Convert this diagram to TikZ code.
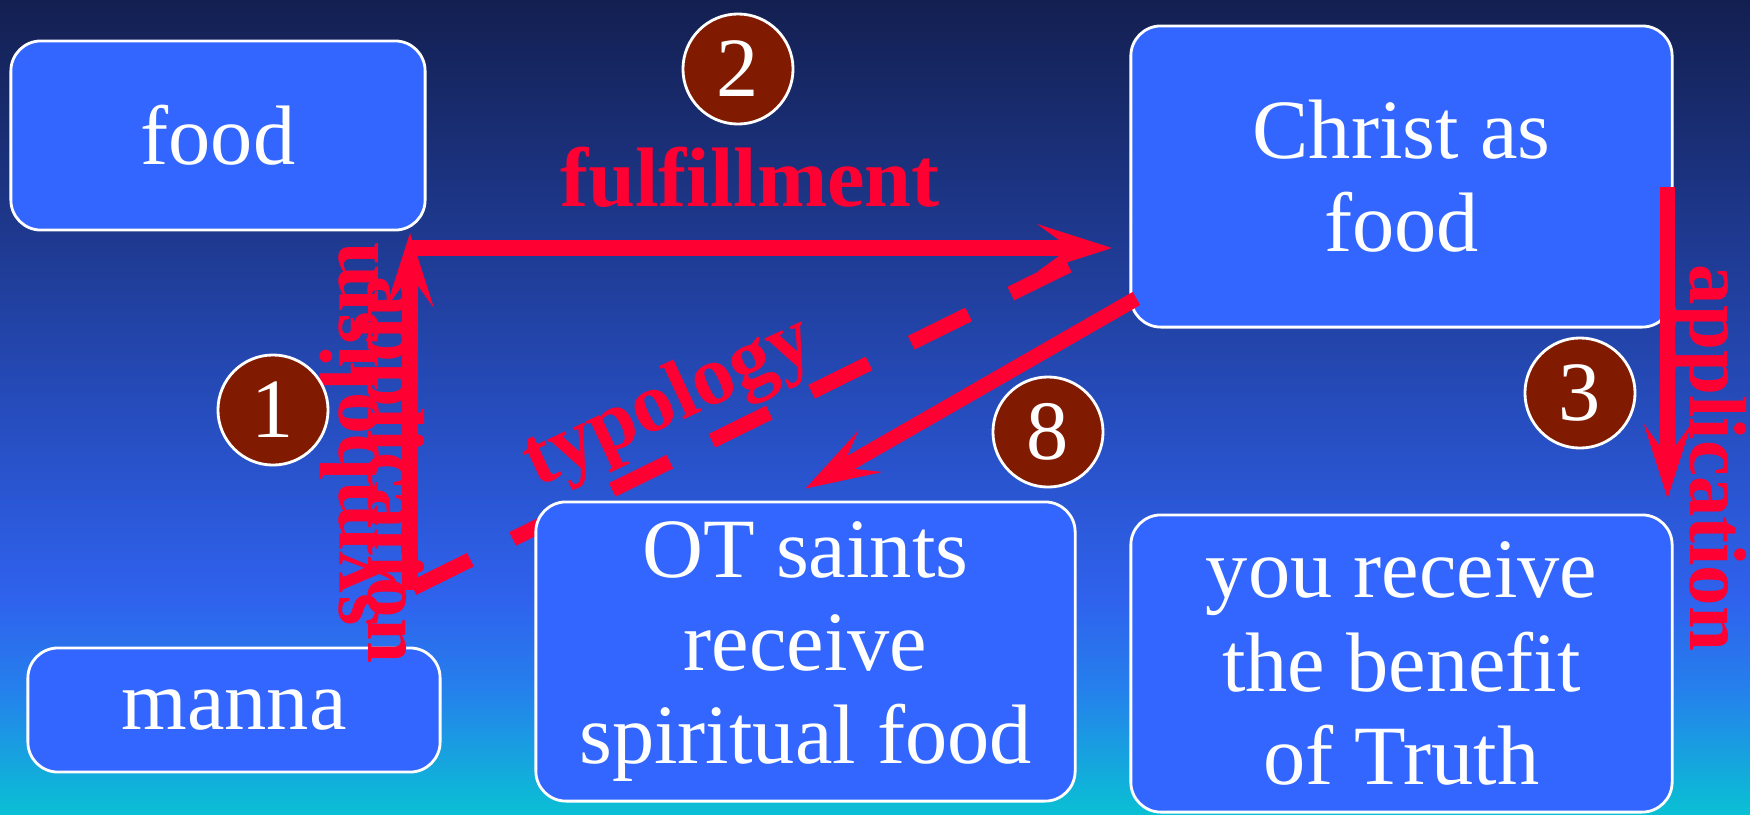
\documentclass[tikz,border=0pt]{standalone}
\usepackage{fontspec}
\setmainfont{Liberation Serif}
\usetikzlibrary{arrows.meta,positioning}

\definecolor{bgtop}{RGB}{19,31,80}
\definecolor{bgmid}{RGB}{33,64,160}
\definecolor{bglight}{RGB}{47,98,238}
\definecolor{bglow}{RGB}{37,128,236}
\definecolor{bgbottom}{RGB}{10,192,212}
\definecolor{cardblue}{RGB}{51,102,255}
\definecolor{linkred}{RGB}{255,0,51}
\definecolor{discbrown}{RGB}{128,26,0}

\tikzset{
  card/.style={draw=white,line width=0.8pt,fill=cardblue,rounded corners=0.3cm,
    text=white,align=center,inner sep=0pt,font=\fontsize{24}{26.5}\selectfont},
  disc/.style={circle,draw=white,line width=0.8pt,fill=discbrown,text=white,
    minimum size=1.1cm,inner sep=0pt,font=\fontsize{24}{26.5}\selectfont},
  link/.style={draw=linkred,line width=4.3pt,
    -{Stealth[length=0.75cm,width=0.48cm,inset=0.33cm,line width=0pt]}},
  tag/.style={text=linkred,inner sep=0pt,font=\fontsize{24}{26.5}\selectfont\bfseries},
  sidetag/.style={text=linkred,inner sep=0pt,font=\fontsize{23}{25}\selectfont\bfseries}
}

\begin{document}
\begin{tikzpicture}[x=0.01cm,y=-0.01cm]
\useasboundingbox (0,0) rectangle (1750,814);
\shade[top color=bgtop,bottom color=bgmid] (0,0) rectangle (1750,300);
\shade[top color=bgmid,bottom color=bglight] (0,299) rectangle (1750,600);
\shade[top color=bglight,bottom color=bglow] (0,599) rectangle (1750,690);
\shade[top color=bglow,bottom color=bgbottom] (0,689) rectangle (1750,814);

\coordinate (symtail) at (410,590);
\coordinate (symhead) at (410,233);
\coordinate (fulhead) at (1112,248);
\coordinate (typtail) at (413,588);
\coordinate (typend) at (1075,262);

\draw[draw=linkred,line width=4.3pt,dash pattern=on 0.64cm off 0.47cm] (typtail) -- (typend);

\node[card,minimum width=4.14cm,minimum height=1.89cm] (food) at (218,135.5) {food};
\node[card,minimum width=4.12cm,minimum height=1.24cm] (manna) at (234,710) {manna};
\node[card,minimum width=5.41cm,minimum height=3.01cm] (christ) at (1401.5,176.5) {Christ as\\food};
\node[card,minimum width=5.39cm,minimum height=2.99cm] (saints) at (805.5,651.5) {OT saints\\receive\\spiritual food};
\node[card,minimum width=5.41cm,minimum height=2.97cm] (you) at (1401.5,663.5) {you receive\\the benefit\\of Truth};

\node[tag,rotate=90,anchor=base] (symbolism) at (378,434) {symbolism};
\node[sidetag,rotate=-90,anchor=base] (applyleft) at (368,470) {application};
\node[sidetag,rotate=-90,anchor=base] (applyright) at (1690,458) {application};
\node[tag,anchor=base] (fulfillment) at (750,206) {fulfillment};
\node[tag,rotate=25,anchor=base] (typology) at (678,422) {typology};

\draw[link] (symtail) -- (symhead);
\draw[link] (symhead |- fulhead) -- (fulhead);
\draw[link] ([xshift=0.07cm,yshift=0.3cm]christ.south west) -- ([yshift=0.12cm]saints.north);
\draw[link] ([xshift=-0.06cm,yshift=-1.62cm]christ.north east) -- ([xshift=-0.06cm,yshift=0.15cm]you.north east);

\node[disc] (one) at (273,410) {1};
\node[disc] (two) at (738,69) {2};
\node[disc] (three) at (1580,393) {3};
\node[disc] (eight) at (1048,432) {8};
\end{tikzpicture}
\end{document}
